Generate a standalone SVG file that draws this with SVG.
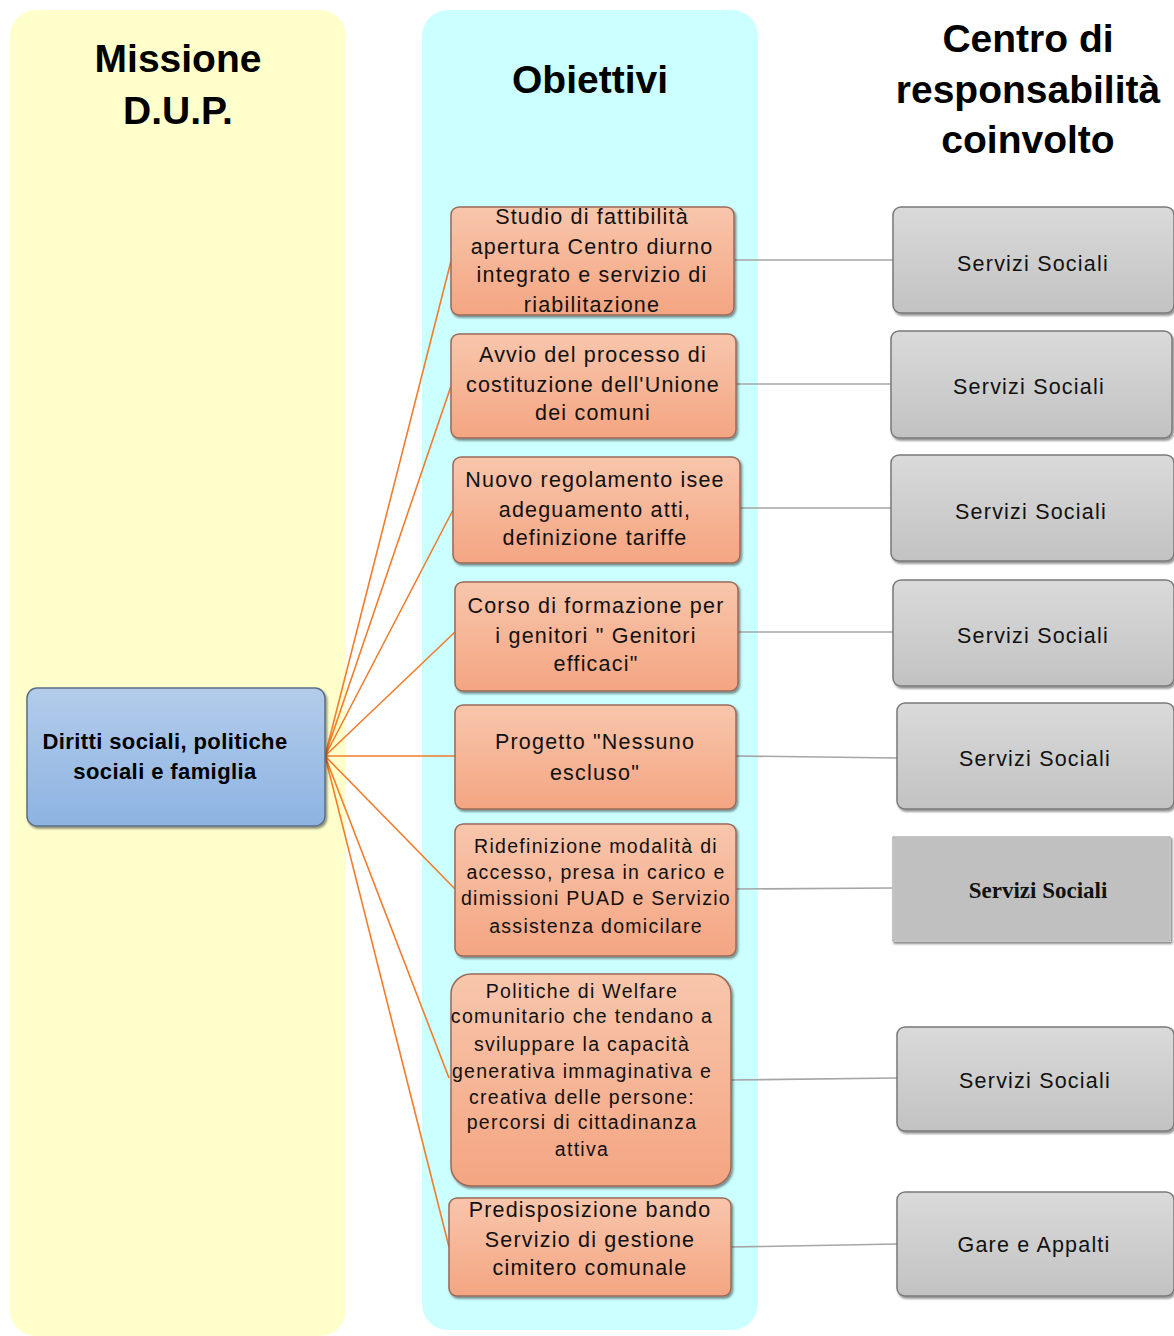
<svg xmlns="http://www.w3.org/2000/svg" width="1174" height="1336" viewBox="0 0 1174 1336">
<defs>
<linearGradient id="gOr" x1="0" y1="0" x2="0" y2="1"><stop offset="0" stop-color="#F8C6AC"/><stop offset="1" stop-color="#F4A582"/></linearGradient>
<linearGradient id="gGr" x1="0" y1="0" x2="0" y2="1"><stop offset="0" stop-color="#DADADA"/><stop offset="1" stop-color="#C2C2C2"/></linearGradient>
<linearGradient id="gBl" x1="0" y1="0" x2="0" y2="1"><stop offset="0" stop-color="#B3CCEA"/><stop offset="1" stop-color="#8DB3E2"/></linearGradient>
<filter id="sh" x="-5%" y="-5%" width="115%" height="115%"><feDropShadow dx="1.5" dy="2" stdDeviation="1" flood-color="#000" flood-opacity="0.45"/></filter>
</defs>
<style>
.t{font-family:"Liberation Sans",Arial,sans-serif;font-weight:bold;font-size:39px;fill:#000;text-anchor:middle}
.o{fill:url(#gOr);stroke:#9A6A58;stroke-width:1.5;filter:url(#sh)}
.g{fill:url(#gGr);stroke:#7A7A7A;stroke-width:1.5;filter:url(#sh)}
.ot{font-family:"Liberation Sans",Arial,sans-serif;font-size:21.5px;fill:#111;text-anchor:middle;letter-spacing:1.2px}
.os{font-size:19.5px;letter-spacing:1.3px}
.gt{font-family:"Liberation Sans",Arial,sans-serif;font-size:21.5px;fill:#111;text-anchor:middle;letter-spacing:1.2px}
.oc{stroke:#F07D2E;stroke-width:1.6;fill:none}
.gc{stroke:#A6A6A6;stroke-width:1.6;fill:none}
.mt{font-family:"Liberation Sans",Arial,sans-serif;font-weight:bold;font-size:22px;text-anchor:middle;letter-spacing:0.4px}
</style>
<rect x="10" y="10" width="336" height="1326" rx="26" fill="#FFFFCC"/>
<rect x="422" y="10" width="336" height="1320" rx="26" fill="#CCFFFF"/>
<text class="t" x="178" y="72">Missione</text>
<text class="t" x="178" y="124">D.U.P.</text>
<text class="t" x="590" y="93">Obiettivi</text>
<text class="t" x="1028" y="52">Centro di</text>
<text class="t" x="1028" y="103">responsabilità</text>
<text class="t" x="1028" y="153">coinvolto</text>
<g id="connectors">
<path class="oc" d="M325 756L451 261M325 756L451 386M325 756L453 510M325 756L455 632M325 756L455 756M325 756L455 889M325 756L449 1078M325 756L449 1247"/>
<path class="gc" d="M734 260H893M736 384H891M740 508H891M738 632H893M736 756L897 758M736 889L893 888M731 1080L897 1078M731 1247L897 1244"/>
</g>
<g id="mission">
<rect x="27" y="688" width="298" height="138" rx="10" fill="url(#gBl)" stroke="#5A7088" stroke-width="1.5" filter="url(#sh)"/>
<text class="mt" x="165" y="749">Diritti sociali,  politiche</text>
<text class="mt" x="165" y="779">sociali  e famiglia</text>
</g>
<g id="ob1"><rect class="o" x="451" y="207" width="283" height="108" rx="8"/>
<text class="ot" x="592" y="224">Studio di fattibilità</text><text class="ot" x="592" y="254">apertura Centro diurno</text><text class="ot" x="592" y="282">integrato e servizio di</text><text class="ot" x="592" y="312">riabilitazione</text></g>
<g id="ob2"><rect class="o" x="451" y="334" width="285" height="104" rx="8"/>
<text class="ot" x="593" y="362">Avvio del processo di</text><text class="ot" x="593" y="392">costituzione dell'Unione</text><text class="ot" x="593" y="420">dei comuni</text></g>
<g id="ob3"><rect class="o" x="453" y="457" width="287" height="106" rx="8"/>
<text class="ot" x="595" y="487">Nuovo regolamento  isee</text><text class="ot" x="595" y="517">adeguamento atti,</text><text class="ot" x="595" y="545">definizione tariffe</text></g>
<g id="ob4"><rect class="o" x="455" y="582" width="283" height="109" rx="8"/>
<text class="ot" x="596" y="613">Corso di formazione per</text><text class="ot" x="596" y="643">i genitori  " Genitori</text><text class="ot" x="596" y="671">efficaci"</text></g>
<g id="ob5"><rect class="o" x="455" y="705" width="281" height="104" rx="8"/>
<text class="ot" x="595" y="749">Progetto "Nessuno</text><text class="ot" x="595" y="780">escluso"</text></g>
<g id="ob6"><rect class="o" x="455" y="824" width="281" height="132" rx="8"/>
<text class="ot os" x="596" y="853">Ridefinizione modalità di</text><text class="ot os" x="596" y="879">accesso, presa in carico e</text><text class="ot os" x="596" y="905">dimissioni PUAD e Servizio</text><text class="ot os" x="596" y="933">assistenza domicilare</text></g>
<g id="ob7"><rect class="o" x="451" y="974" width="280" height="212" rx="20"/>
<text class="ot os" x="582" y="998">Politiche di Welfare</text><text class="ot os" x="582" y="1023">comunitario che tendano a</text><text class="ot os" x="582" y="1051">sviluppare la capacità</text><text class="ot os" x="582" y="1078">generativa immaginativa e</text><text class="ot os" x="582" y="1104">creativa delle persone:</text><text class="ot os" x="582" y="1129">percorsi di cittadinanza</text><text class="ot os" x="582" y="1156">attiva</text></g>
<g id="ob8"><rect class="o" x="449" y="1198" width="282" height="98" rx="8"/>
<text class="ot" x="590" y="1217">Predisposizione bando</text><text class="ot" x="590" y="1247">Servizio di gestione</text><text class="ot" x="590" y="1275">cimitero comunale</text></g>
<g id="cr1"><rect class="g" x="893" y="207" width="281" height="106" rx="8"/><text class="gt" x="1033" y="271">Servizi Sociali</text></g>
<g id="cr2"><rect class="g" x="891" y="331" width="281" height="107" rx="8"/><text class="gt" x="1029" y="394">Servizi Sociali</text></g>
<g id="cr3"><rect class="g" x="891" y="455" width="283" height="106" rx="8"/><text class="gt" x="1031" y="519">Servizi Sociali</text></g>
<g id="cr4"><rect class="g" x="893" y="580" width="281" height="106" rx="8"/><text class="gt" x="1033" y="643">Servizi Sociali</text></g>
<g id="cr5"><rect class="g" x="897" y="703" width="277" height="106" rx="8"/><text class="gt" x="1035" y="766">Servizi Sociali</text></g>
<g id="cr6"><rect x="893" y="837" width="277" height="104" fill="#C0C0C0" stroke="#FFFFFF" stroke-width="2" filter="url(#sh)"/><rect x="893" y="837" width="277" height="104" fill="none" stroke="#888" stroke-width="1"/><text x="1038" y="898" font-family="Liberation Serif,'Times New Roman',serif" font-weight="bold" font-size="23" text-anchor="middle" fill="#111">Servizi Sociali</text></g>
<g id="cr7"><rect class="g" x="897" y="1027" width="277" height="104" rx="8"/><text class="gt" x="1035" y="1088">Servizi Sociali</text></g>
<g id="cr8"><rect class="g" x="897" y="1192" width="277" height="104" rx="8"/><text class="gt" x="1034" y="1252">Gare e Appalti</text></g>
</svg>
